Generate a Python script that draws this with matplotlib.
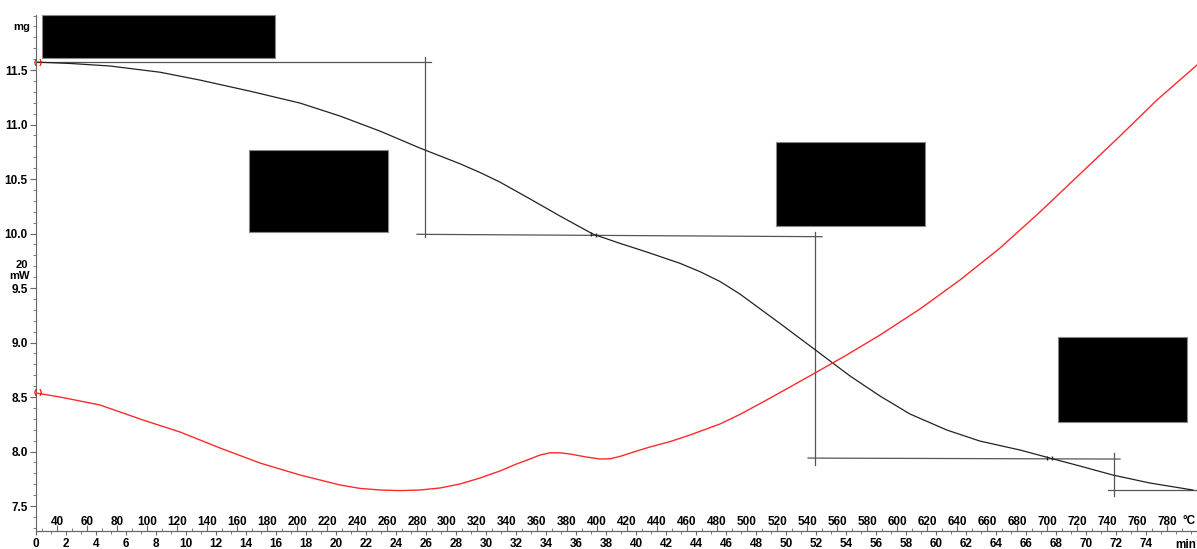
import matplotlib
matplotlib.use('Agg')
import matplotlib.pyplot as plt
from matplotlib.patches import Rectangle
from matplotlib.ticker import MultipleLocator

plt.rcParams['font.family'] = ['Liberation Sans', 'DejaVu Sans']
plt.rcParams['font.weight'] = 'bold'

W, H = 1197, 549

# TGA curve: sample temperature (°C) vs mass (mg)
tga_temp = [26.0, 49.3, 75.3, 108.7, 135.3, 168.7, 202.0, 228.7, 255.3, 282.0,
            308.7, 322.0, 335.3, 355.3, 375.3, 397.3, 415.3, 433.3, 455.3, 468.7,
            482.0, 495.3, 522.0, 545.3, 568.7, 588.7, 608.7, 633.3, 655.3, 682.0,
            702.0, 722.0, 744.0, 768.7, 797.3]
tga_mass = [11.573, 11.560, 11.537, 11.480, 11.408, 11.306, 11.197, 11.078, 10.940, 10.784,
            10.640, 10.560, 10.472, 10.318, 10.161, 9.995, 9.910, 9.830, 9.727, 9.650,
            9.560, 9.445, 9.175, 8.935, 8.693, 8.509, 8.344, 8.197, 8.096, 8.014,
            7.940, 7.867, 7.784, 7.711, 7.647]

# DSC curve: temperature (°C) vs heat flow (mW)
dsc_temp = [26.0, 42.0, 68.7, 97.3, 122.0, 148.7, 175.3, 202.0, 228.7, 242.0,
            255.3, 268.7, 282.0, 295.3, 308.7, 322.0, 335.3, 345.3, 355.3, 362.0,
            368.7, 375.3, 382.0, 392.0, 402.0, 408.7, 415.3, 425.3, 435.3, 448.7,
            462.0, 482.0, 495.3, 508.7, 528.7, 545.3, 565.3, 588.7, 615.3, 642.0,
            668.7, 695.3, 722.0, 748.7, 773.3, 800.0]
dsc_mw = [13.85, 13.65, 13.25, 12.5, 11.9, 11.1, 10.35, 9.75, 9.25, 9.08,
          9.0, 8.97, 9.0, 9.1, 9.3, 9.6, 9.95, 10.27, 10.55, 10.75,
          10.86, 10.86, 10.8, 10.66, 10.55, 10.56, 10.68, 10.92, 11.15, 11.42,
          11.75, 12.3, 12.78, 13.32, 14.15, 14.85, 15.7, 16.75, 18.05, 19.5,
          21.1, 22.9, 24.8, 26.7, 28.5, 30.25]

# step evaluation construction lines (°C, mg)
step_lines = [
    ([26.0, 289.0], [11.573, 11.573]),
    ([285.3, 285.3], [11.62, 9.968]),
    ([280.0, 550.0], [9.993, 9.971]),
    ([545.3, 545.3], [10.014, 7.876]),
    ([540.7, 748.7], [7.940, 7.931]),
    ([744.7, 744.7], [7.986, 7.592]),
    ([740.7, 800.0], [7.647, 7.647]),
]

# small step markers on the TGA curve (°C, mg)
mark_temp = [396.0, 399.0, 700.0, 703.0]
mark_mass = [10.00, 9.99, 7.945, 7.94]

# redacted boxes in the original (pixels: x0, y0, x1, y1)
boxes = [(42, 15, 275, 58), (249, 150, 388, 232), (776, 142, 925, 226), (1058, 337, 1187, 422)]

fig = plt.figure(figsize=(W / 100, H / 100), dpi=100)
ax = fig.add_axes([36 / W, 18 / H, 1 - 36 / W, (531 - 15) / H])

ax.set_xlim(26, 800)
ax.set_ylim(7.271, 12.005)

for xs, ys in step_lines:
    ax.plot(xs, ys, color='#555555', lw=0.9, clip_on=False)
ax.plot(tga_temp, tga_mass, color='#222222', lw=0.9)
ax.plot(mark_temp, mark_mass, ls='none', marker='|', ms=3, mew=1, color='#222222')

ax2 = ax.twinx()
ax2.set_ylim(20 - (531 - 270) / 20, 20 + (270 - 15) / 20)
ax2.plot(dsc_temp, dsc_mw, color='#ff2a2a', lw=1.0)
ax2.axis('off')

for s in ['top', 'right']:
    ax.spines[s].set_visible(False)
for s in ['left', 'bottom']:
    ax.spines[s].set_color('#666666')

ax.yaxis.set_minor_locator(MultipleLocator(0.1))
ax.set_yticks([7.5, 8.0, 8.5, 9.0, 9.5, 10.0, 10.5, 11.0, 11.5])
ax.tick_params(axis='y', which='major', length=4, color='#666666', pad=2, labelsize=8.5)
ax.tick_params(axis='y', which='minor', length=2.5, color='#666666')

ax.xaxis.set_minor_locator(MultipleLocator(10))
ax.set_xticks(range(40, 781, 20))
ax.tick_params(axis='x', which='major', direction='in', length=4, color='#666666',
               pad=-11, labelsize=8.5)
ax.tick_params(axis='x', which='minor', direction='in', length=2, color='#666666')

sec = ax.secondary_xaxis('bottom', functions=(lambda T: (T - 26) / 10, lambda t: t * 10 + 26))
sec.xaxis.set_minor_locator(MultipleLocator(1))
sec.set_xticks(range(0, 75, 2))
sec.tick_params(axis='x', which='major', direction='out', length=3, color='#666666',
                pad=2, labelsize=8.5)
sec.tick_params(axis='x', which='minor', direction='out', length=2, color='#666666')
sec.spines['bottom'].set_color('#666666')

fig.text(22 / W, 1 - 27 / H, 'mg', ha='center', va='center', fontsize=8)
fig.text(22 / W, 1 - 265 / H, '20', ha='center', va='center', fontsize=8)
fig.text(20 / W, 1 - 276 / H, 'mW', ha='center', va='center', fontsize=8)
fig.text(1196 / W, 1 - 521 / H, '°C', ha='right', va='center', fontsize=8.5)
fig.text(1196 / W, 1 - 545 / H, 'min', ha='right', va='center', fontsize=8.5)

# start markers
ax.text(27.5, 11.573, '( )', color='red', fontsize=6, ha='center', va='center', clip_on=False)
ax2.text(27.5, 13.85, '( )', color='red', fontsize=6, ha='center', va='center', clip_on=False)

for x0, y0, x1, y1 in boxes:
    fig.add_artist(Rectangle((x0 / W, 1 - y1 / H), (x1 - x0) / W, (y1 - y0) / H,
                             transform=fig.transFigure, facecolor='black',
                             edgecolor='#888888', lw=0.8, zorder=10))

fig.savefig('out.png', dpi=100)
